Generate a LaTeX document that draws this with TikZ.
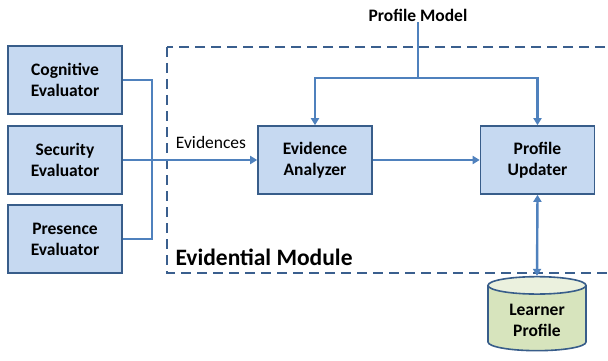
\documentclass[tikz,border=0pt]{standalone}
\usepackage{fontspec}
\setmainfont{Carlito}
\usetikzlibrary{arrows.meta,shapes.geometric}

\definecolor{boxfill}{HTML}{C6D9F1}
\definecolor{boxline}{HTML}{385D8A}
\definecolor{linkblue}{HTML}{4F81BD}
\definecolor{dashblue}{HTML}{3A5F8E}
\definecolor{dbbody}{HTML}{D7E4BD}
\definecolor{dbend}{HTML}{EBF1DE}

\tikzset{
  evalbox/.style={rectangle, draw=boxline, fill=boxfill, line width=1.6pt,
    minimum width=114pt, minimum height=68pt, align=center,
    font=\fontsize{17.5}{21}\selectfont\bfseries},
  link/.style={draw=linkblue, line width=2.4pt},
  tip/.style={-{Triangle[length=7pt,width=8pt]}},
  module/.style={draw=dashblue, line width=1.8pt, dash pattern=on 10pt off 6pt}
}

\begin{document}
\begin{tikzpicture}[x=1pt,y=1pt]
\clip (0,-361) rectangle (608,0);
\fill[white] (0,-361) rectangle (608,0);

% evidential module
\draw[module] (167,-47) rectangle (640,-273);
\node[anchor=west, font=\fontsize{23.5}{28}\selectfont\bfseries] (modname) at (172,-257) {Evidential Module};

% evaluators
\node[evalbox] (cog) at (65,-80) {Cognitive\\Evaluator};
\node[evalbox] (sec) at (65,-160) {Security\\Evaluator};
\node[evalbox] (pre) at (65,-239) {Presence\\Evaluator};

% module boxes
\node[evalbox] (ana) at (315,-160) {Evidence\\Analyzer};
\node[evalbox] (upd) at (537.5,-160) {Profile\\Updater};

\node[font=\fontsize{17.5}{20}\selectfont\bfseries, inner sep=1pt] (pm) at (418,-15) {Profile Model};
\node[font=\fontsize{17.5}{20}\selectfont] (ev) at (211,-142) {Evidences};

\node[cylinder, shape border rotate=90, aspect=0.28, draw=boxline, line width=1.6pt,
  cylinder uses custom fill, cylinder body fill=dbbody, cylinder end fill=dbend,
  minimum width=98pt, minimum height=74pt, align=center,
  font=\fontsize{17.5}{21}\selectfont\bfseries] (lp) at (537,-320) {Learner\\Profile};

\coordinate (bus) at (152,-160);
\coordinate (split) at (418,-78);

% connectors
\draw[link] (cog.east) -| (bus) |- (pre.east);
\draw[link, tip] (sec.east) -- (ana.west);
\draw[link] (pm.south) -- (split);
\draw[link, tip] (split) -| (ana.north);
\draw[link, tip] (split) -| (upd.north);
\draw[link, tip] (ana.east) -- (upd.west);
\draw[link, {Triangle[length=7pt,width=8pt]}-{Triangle[length=7pt,width=8pt]}] (upd.south) -- (lp.north);
\end{tikzpicture}
\end{document}
